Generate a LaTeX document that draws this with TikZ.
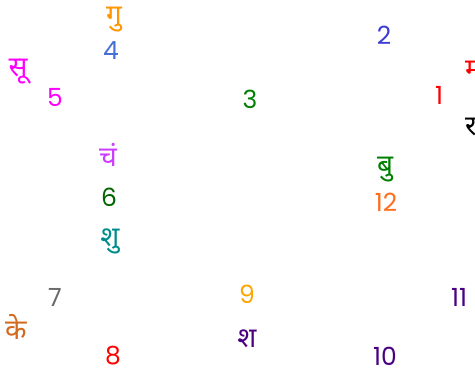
\documentclass[tikz,border=0pt]{standalone}
\usepackage{fontspec}
\setmainfont{Poppins}
\newfontfamily\dev[Script=Devanagari]{Noto Sans}
\definecolor{cGu}{RGB}{255,150,0}
\definecolor{cFour}{RGB}{70,110,215}
\definecolor{cMag}{RGB}{255,0,255}
\definecolor{cTwo}{RGB}{60,60,210}
\definecolor{cGreen}{RGB}{0,128,0}
\definecolor{cDkGreen}{RGB}{0,100,0}
\definecolor{cRed}{RGB}{255,0,0}
\definecolor{cChan}{RGB}{204,60,255}
\definecolor{cTeal}{RGB}{0,139,139}
\definecolor{cTwelve}{RGB}{255,110,30}
\definecolor{cGray}{RGB}{105,105,105}
\definecolor{cChoc}{RGB}{210,105,30}
\definecolor{cOrange}{RGB}{255,165,0}
\definecolor{cIndigo}{RGB}{75,0,130}
\tikzset{
  num/.style={inner sep=0pt, font=\fontsize{25}{27}\selectfont},
  pl/.style={inner sep=0pt, font=\dev\fontsize{28}{30}\selectfont},
}
\begin{document}
\begin{tikzpicture}[x=1pt,y=1pt]
\clip (0,0) rectangle (475,377);
\fill[white] (0,0) rectangle (475,377);
% house numbers
\node[num, text=cRed] (n1) at (439,282) {1};
\node[num, text=cTwo] (n2) at (384,342) {2};
\node[num, text=cGreen] (n3) at (250,278) {3};
\node[num, text=cFour] (n4) at (111,326) {4};
\node[num, text=cMag] (n5) at (55,280) {5};
\node[num, text=cDkGreen] (n6) at (109,180) {6};
\node[num, text=cGray] (n7) at (55,80) {7};
\node[num, text=cRed] (n8) at (113,21) {8};
\node[num, text=cOrange] (n9) at (247,83) {9};
\node[num, text=cIndigo] (n10) at (385,21) {10};
\node[num, text=cIndigo, anchor=west] (n11) at (451,80) {11};
\node[num, text=cTwelve] (n12) at (386,175) {12};
% planets
\node[pl, text=cGu] (gu) at (114,357) {गु};
\node[pl, text=cMag] (su) at (18,305) {सू};
\node[pl, text=cRed, anchor=west] (ma) at (465,310) {मं};
\node[pl, text=black, anchor=west] (ra) at (465,250) {रा};
\node[pl, text=cChan] (ch) at (108,222) {चं};
\node[pl, text=cTeal] (shu) at (110,136) {शु};
\node[pl, text=cGreen] (bu) at (385,207) {बु};
\node[pl, text=cChoc] (ke) at (16,50) {के};
\node[pl, text=cIndigo] (sha) at (247,38) {श};
\end{tikzpicture}
\end{document}
